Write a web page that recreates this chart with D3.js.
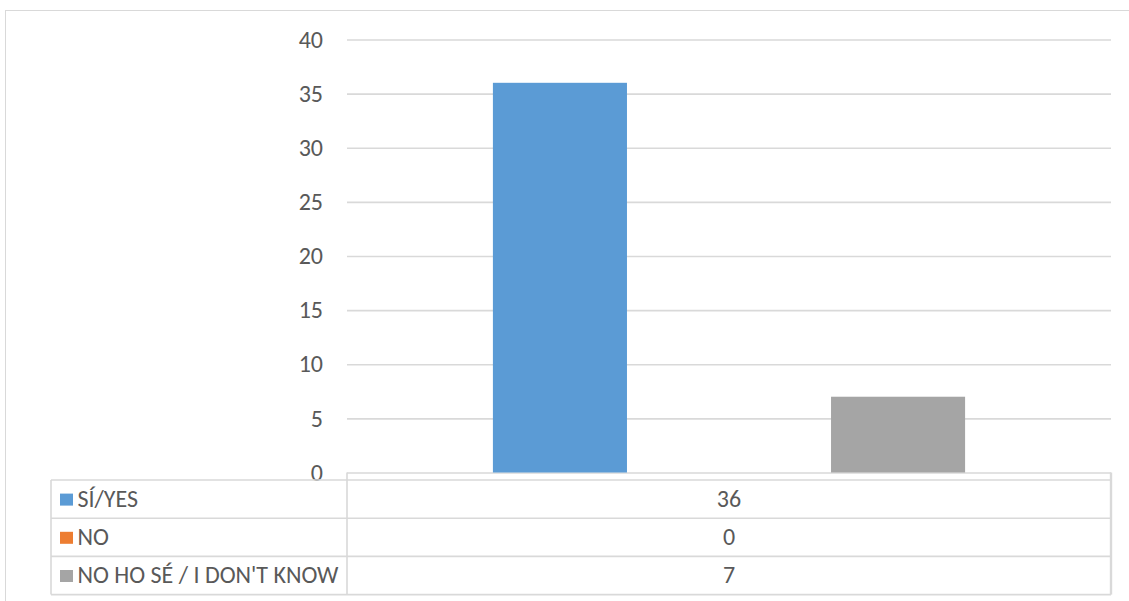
<!DOCTYPE html>
<html>
<head>
<meta charset="utf-8">
<script src="https://cdn.jsdelivr.net/npm/d3@7"></script>
<style>
  html, body { margin: 0; padding: 0; background: #fff; }
  svg { display: block; }
  text { font-family: Carlito, Calibri, Lato, sans-serif; fill: #595959; }
</style>
</head>
<body>
<svg id="chart" width="1129" height="601"></svg>
<script>
// Survey answers, one category, three series
const categories = [""];
const seriesNames = ["SÍ/YES", "NO", "NO HO SÉ / I DON'T KNOW"];
const seriesValues = [36, 0, 7];
const seriesColors = ["#5b9bd5", "#ed7d31", "#a5a5a5"];
const yTicks = [0, 5, 10, 15, 20, 25, 30, 35, 40];

const svg = d3.select("#chart");
const gridColor = "#d9d9d9";
const fontSize = 24;
const labelSize = 24;

// plot area
const plot = { left: 347, right: 1111, top: 39.5, bottom: 472.5 };
// data table under the plot
const table = { left: 51, right: 1111, top: 480, rowH: 38.2 };

// chart frame
svg.append("rect")
  .attr("x", 5.5).attr("y", 10.5)
  .attr("width", 1140).attr("height", 600)
  .attr("fill", "none").attr("stroke", gridColor).attr("stroke-width", 1);

const y = d3.scaleLinear().domain([0, 40]).range([plot.bottom, plot.top]);

const x0 = d3.scaleBand().domain(categories)
  .range([plot.left, plot.right]).paddingInner(0).paddingOuter(0.309);
const x1 = d3.scaleBand().domain(seriesNames)
  .range([0, x0.bandwidth()]).paddingInner(0.207).paddingOuter(0);

// gridlines
svg.append("g")
  .attr("transform", `translate(${plot.left},0)`)
  .call(d3.axisLeft(y).tickValues(yTicks).tickSize(-(plot.right - plot.left)).tickFormat(""))
  .call(g => g.select(".domain").remove())
  .call(g => g.selectAll("line").attr("stroke", gridColor).attr("stroke-width", 1.6));

// y tick labels
svg.append("g")
  .attr("transform", `translate(323,0)`)
  .call(d3.axisLeft(y).tickValues(yTicks).tickSize(0).tickPadding(0))
  .call(g => g.select(".domain").remove())
  .call(g => g.selectAll("text")
    .attr("font-size", fontSize).attr("font-family", null)
    .attr("fill", "#595959").attr("dy", "0.32em"));

// bars
const groups = svg.append("g").selectAll("g")
  .data(categories).join("g")
  .attr("transform", d => `translate(${x0(d)},0)`);

groups.selectAll("rect")
  .data(() => seriesNames.map((n, i) => ({ name: n, value: seriesValues[i], color: seriesColors[i] })))
  .join("rect")
  .attr("x", d => x1(d.name))
  .attr("width", x1.bandwidth())
  .attr("y", d => y(d.value))
  .attr("height", d => y(0) - y(d.value))
  .attr("fill", d => d.color);

// data table
const tg = svg.append("g");
const rowY = i => table.top + i * table.rowH;
const tBottom = rowY(seriesNames.length);

// horizontal row lines
d3.range(seriesNames.length + 1).forEach(i => {
  tg.append("line")
    .attr("x1", table.left).attr("x2", table.right)
    .attr("y1", rowY(i)).attr("y2", rowY(i))
    .attr("stroke", gridColor).attr("stroke-width", 1.6);
});
// vertical lines
tg.append("line").attr("x1", table.left).attr("x2", table.left)
  .attr("y1", table.top).attr("y2", tBottom)
  .attr("stroke", gridColor).attr("stroke-width", 1.6);
tg.append("line").attr("x1", plot.left).attr("x2", plot.left)
  .attr("y1", plot.bottom).attr("y2", tBottom)
  .attr("stroke", gridColor).attr("stroke-width", 1.6);
tg.append("line").attr("x1", table.right).attr("x2", table.right)
  .attr("y1", plot.bottom).attr("y2", tBottom)
  .attr("stroke", gridColor).attr("stroke-width", 2.4);

// legend keys and series names
seriesNames.forEach((name, i) => {
  const cy = rowY(i) + table.rowH / 2;
  tg.append("rect")
    .attr("x", 60).attr("y", cy - 5.5)
    .attr("width", 13).attr("height", 12)
    .attr("fill", seriesColors[i]);
  tg.append("text")
    .attr("x", 77.5).attr("y", cy).attr("dy", "0.32em")
    .attr("font-size", labelSize)
    .text(name);
  categories.forEach(c => {
    tg.append("text")
      .attr("x", x0(c) + x0.bandwidth() / 2).attr("y", cy).attr("dy", "0.32em")
      .attr("text-anchor", "middle")
      .attr("font-size", fontSize)
      .text(seriesValues[i]);
  });
});
</script>
</body>
</html>
